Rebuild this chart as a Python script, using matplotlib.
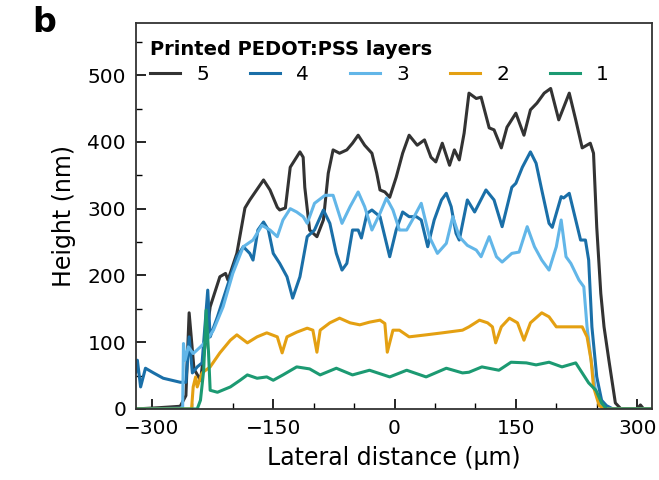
#!/usr/bin/env python3

import numpy as np
import matplotlib
matplotlib.use("Agg")
import matplotlib.pyplot as plt
from matplotlib.ticker import MultipleLocator

# layer 5 (black)
x5 = [-320, -290, -265, -258, -254, -248, -240, -228, -216, -209, -206, -195, -185, -179, -162, -154,
      -145, -142, -135, -129, -117, -113, -111, -105, -96, -88, -82, -76, -68, -59, -52, -45, -37,
      -28, -22, -18, -12, -6, 2, 10, 18, 28, 37, 45, 51, 59, 68, 74, 80, 86, 92, 101, 107, 117, 123,
      132, 139, 150, 160, 168, 176, 185, 193, 203, 216, 224, 232, 242, 246, 250, 255, 259, 265, 273,
      280, 300, 304, 308, 318]
y5 = [0, 2, 4, 20, 144, 60, 43, 153, 198, 203, 193, 233, 301, 313, 343, 328,
      302, 298, 301, 362, 385, 377, 332, 268, 258, 283, 353, 388, 383, 388, 398, 410, 395,
      383, 353, 328, 325, 317, 347, 383, 410, 395, 403, 377, 370, 398, 365, 388, 373, 413, 473, 465, 467, 421, 418,
      391, 422, 443, 410, 448, 458, 473, 480, 433, 473, 433, 391, 398, 383, 272, 173, 123, 73, 9,
      0, 0, 6, 0, 0]

# layer 4 (dark blue)
x4 = [-320, -318, -314, -308, -298, -286, -265, -258, -254, -250, -244, -238, -231, -228, -219, -207,
      -195, -187, -179, -175, -169, -162, -156, -150, -142, -133, -126, -117, -108, -99, -88, -80,
      -72, -65, -59, -52, -45, -41, -34, -28, -18, -12, -6, 2, 10, 18, 27, 33, 41, 49, 58, 64, 70,
      76, 80, 90, 99, 113, 123, 133, 145, 150, 158, 168, 175, 182, 191, 195, 206, 209, 216, 224,
      230, 236, 240, 244, 250, 256, 262, 270, 318]
y4 = [55, 73, 33, 61, 54, 46, 40, 40, 108, 54, 63, 69, 178, 108, 138, 183,
      228, 243, 233, 223, 268, 280, 268, 233, 218, 198, 166, 198, 258, 268, 298, 278,
      233, 208, 218, 268, 268, 256, 293, 298, 288, 258, 228, 268, 295, 288, 288, 283, 243, 283, 313, 323, 303,
      263, 253, 313, 295, 328, 313, 273, 332, 338, 362, 385, 368, 328, 278, 272, 318, 316, 323, 283,
      253, 253, 223, 123, 48, 13, 5, 0, 0]

# layer 3 (light blue)
x3 = [-320, -265, -262, -261, -259, -255, -249, -240, -232, -224, -212, -200, -187, -175, -164, -154,
      -145, -138, -129, -121, -113, -108, -99, -86, -76, -65, -55, -45, -37, -28, -18, -10, -2, 6, 15,
      22, 33, 43, 53, 64, 72, 80, 90, 101, 107, 117, 126, 133, 145, 154, 164, 173, 182, 191, 200, 206,
      212, 218, 228, 234, 238, 243, 249, 255, 262, 318]
y3 = [0, 1, 3, 98, 73, 93, 83, 93, 103, 118, 153, 203, 243, 253, 275, 268,
      258, 283, 300, 295, 288, 278, 308, 320, 320, 278, 303, 325, 303, 268, 293, 316, 298, 268, 268,
      283, 308, 258, 233, 248, 288, 258, 245, 238, 228, 258, 228, 220, 233, 235, 273, 243, 223, 208, 243, 283,
      228, 218, 193, 183, 123, 73, 24, 5, 0, 0]

# layer 2 (orange)
x2 = [-320, -251, -249, -246, -244, -238, -228, -216, -203, -195, -182, -170, -158, -145, -139, -133,
      -121, -108, -101, -96, -92, -80, -68, -55, -43, -31, -18, -12, -9, -2, 6, 18, 39, 59, 84, 92,
      105, 115, 121, 125, 132, 142, 152, 160, 168, 182, 191, 200, 212, 224, 232, 238, 243, 246, 253,
      260, 318]
y2 = [0, 0, 33, 48, 33, 54, 63, 84, 103, 111, 99, 108, 114, 108, 84, 108,
      115, 121, 118, 85, 118, 129, 136, 129, 126, 130, 133, 128, 85, 118, 118, 108, 111, 114, 118, 123,
      133, 129, 123, 99, 123, 136, 129, 103, 129, 144, 138, 123, 123, 123, 123, 108, 73, 33, 5,
      0, 0]

# layer 1 (green)
x1 = [-320, -244, -240, -236, -233, -230, -228, -219, -203, -191, -182, -170, -158, -150, -138, -121,
      -105, -92, -72, -52, -31, -6, 15, 39, 64, 84, 92, 108, 129, 144, 163, 175, 191, 207, 224, 232,
      240, 249, 256, 262, 318]
y1 = [0, 0, 13, 58, 148, 84, 28, 25, 33, 43, 51, 46, 48, 43, 51, 63,
      60, 51, 61, 51, 58, 48, 58, 48, 61, 54, 55, 63, 58, 70, 69, 66, 70, 63, 69, 54,
      39, 28, 9, 0, 0]

layers = ["5", "4", "3", "2", "1"]
colors = ["#333333", "#1a6fa8", "#62b6e8", "#e4a012", "#1c9a72"]


def main() -> int:
    plt.rcParams["font.family"] = "DejaVu Sans"
    fig = plt.figure(figsize=(6.59, 4.8), dpi=100)
    ax = fig.add_axes([0.206, 0.148, 0.783, 0.804])

    # draw profiles, thickest layer first
    for xs, ys, lab, col in zip([x5, x4, x3, x2, x1], [y5, y4, y3, y2, y1], layers, colors):
        ax.plot(xs, ys, color=col, lw=2.2, label=lab, solid_joinstyle="round")

    ax.set_xlim(-320, 318)
    ax.set_ylim(0, 578)
    ax.set_xticks([-300, -150, 0, 150, 300])
    ax.set_yticks([0, 100, 200, 300, 400, 500])
    ax.xaxis.set_minor_locator(MultipleLocator(50))
    ax.yaxis.set_minor_locator(MultipleLocator(50))
    ax.tick_params(which="major", direction="in", length=7, width=1.2, labelsize=14.5, pad=7)
    ax.tick_params(which="minor", direction="in", length=4, width=1.0)
    for sp in ax.spines.values():
        sp.set_linewidth(1.3)
        sp.set_color("#333333")

    ax.set_xlabel("Lateral distance (\u00b5m)", fontsize=17, labelpad=6)
    ax.set_ylabel("Height (nm)", fontsize=17, labelpad=8)

    leg = ax.legend(ncol=5, loc="upper left", bbox_to_anchor=(0.0, 0.993), frameon=False,
                    title="Printed PEDOT:PSS layers", alignment="left", fontsize=14.5,
                    handlelength=1.5, columnspacing=2.03, handletextpad=0.8, borderpad=0.2,
                    labelspacing=0.3)
    leg.get_title().set_fontweight("bold")
    leg.get_title().set_fontsize(14)

    fig.text(0.067, 0.953, "b", fontsize=24, fontweight="bold", ha="center", va="center")

    fig.savefig("out.png", dpi=100)
    return 0


if __name__ == "__main__":
    main()
